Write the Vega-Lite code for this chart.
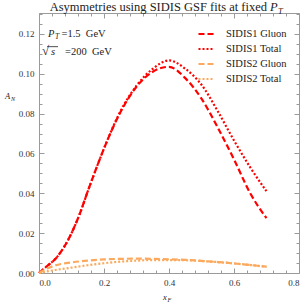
{
  "$schema": "https://vega.github.io/schema/vega-lite/v6.json",
  "width": 260,
  "height": 260,
  "autosize": {"type": "none"},
  "padding": {"left": 39, "top": 13, "right": 8, "bottom": 34},
  "config": {
    "view": {"stroke": "#9a9a9a", "strokeWidth": 1},
    "axis": {"domain": false, "grid": false, "tickColor": "#9a9a9a", "tickWidth": 1, "labelFont": "Liberation Serif", "labelFontSize": 9, "labelColor": "#333333", "title": null},
    "text": {"font": "Liberation Serif", "color": "#222222"},
    "legend": {"symbolType": "stroke", "symbolSize": 225, "symbolStrokeWidth": 2.2, "labelFont": "Liberation Serif", "labelFontSize": 10.5, "labelColor": "#222222", "labelOffset": 11, "rowPadding": 0, "padding": 0}
  },
  "datasets": {
    "curves": [
      {"series": "SIDIS1 Gluon", "xF": 0, "AN": 0},
      {"series": "SIDIS1 Gluon", "xF": 0.025, "AN": 0.0035},
      {"series": "SIDIS1 Gluon", "xF": 0.05, "AN": 0.007},
      {"series": "SIDIS1 Gluon", "xF": 0.075, "AN": 0.0125},
      {"series": "SIDIS1 Gluon", "xF": 0.1, "AN": 0.02},
      {"series": "SIDIS1 Gluon", "xF": 0.125, "AN": 0.0295},
      {"series": "SIDIS1 Gluon", "xF": 0.15, "AN": 0.041},
      {"series": "SIDIS1 Gluon", "xF": 0.175, "AN": 0.052},
      {"series": "SIDIS1 Gluon", "xF": 0.2, "AN": 0.0625},
      {"series": "SIDIS1 Gluon", "xF": 0.25, "AN": 0.0805},
      {"series": "SIDIS1 Gluon", "xF": 0.3, "AN": 0.0935},
      {"series": "SIDIS1 Gluon", "xF": 0.35, "AN": 0.101},
      {"series": "SIDIS1 Gluon", "xF": 0.4, "AN": 0.1035},
      {"series": "SIDIS1 Gluon", "xF": 0.45, "AN": 0.0978},
      {"series": "SIDIS1 Gluon", "xF": 0.5, "AN": 0.0875},
      {"series": "SIDIS1 Gluon", "xF": 0.55, "AN": 0.073},
      {"series": "SIDIS1 Gluon", "xF": 0.6, "AN": 0.057},
      {"series": "SIDIS1 Gluon", "xF": 0.65, "AN": 0.04},
      {"series": "SIDIS1 Gluon", "xF": 0.7, "AN": 0.0275},
      {"series": "SIDIS1 Total", "xF": 0, "AN": 0},
      {"series": "SIDIS1 Total", "xF": 0.025, "AN": 0.0035},
      {"series": "SIDIS1 Total", "xF": 0.05, "AN": 0.007},
      {"series": "SIDIS1 Total", "xF": 0.075, "AN": 0.0125},
      {"series": "SIDIS1 Total", "xF": 0.1, "AN": 0.02},
      {"series": "SIDIS1 Total", "xF": 0.125, "AN": 0.0295},
      {"series": "SIDIS1 Total", "xF": 0.15, "AN": 0.041},
      {"series": "SIDIS1 Total", "xF": 0.175, "AN": 0.052},
      {"series": "SIDIS1 Total", "xF": 0.2, "AN": 0.0625},
      {"series": "SIDIS1 Total", "xF": 0.25, "AN": 0.081},
      {"series": "SIDIS1 Total", "xF": 0.3, "AN": 0.094},
      {"series": "SIDIS1 Total", "xF": 0.35, "AN": 0.1025},
      {"series": "SIDIS1 Total", "xF": 0.4, "AN": 0.1067},
      {"series": "SIDIS1 Total", "xF": 0.45, "AN": 0.1025},
      {"series": "SIDIS1 Total", "xF": 0.5, "AN": 0.0945},
      {"series": "SIDIS1 Total", "xF": 0.55, "AN": 0.0812},
      {"series": "SIDIS1 Total", "xF": 0.6, "AN": 0.0665},
      {"series": "SIDIS1 Total", "xF": 0.65, "AN": 0.053},
      {"series": "SIDIS1 Total", "xF": 0.7, "AN": 0.041},
      {"series": "SIDIS2 Gluon", "xF": 0, "AN": 0},
      {"series": "SIDIS2 Gluon", "xF": 0.025, "AN": 0.0022},
      {"series": "SIDIS2 Gluon", "xF": 0.05, "AN": 0.0038},
      {"series": "SIDIS2 Gluon", "xF": 0.1, "AN": 0.0053},
      {"series": "SIDIS2 Gluon", "xF": 0.15, "AN": 0.0062},
      {"series": "SIDIS2 Gluon", "xF": 0.2, "AN": 0.0068},
      {"series": "SIDIS2 Gluon", "xF": 0.25, "AN": 0.0071},
      {"series": "SIDIS2 Gluon", "xF": 0.3, "AN": 0.0072},
      {"series": "SIDIS2 Gluon", "xF": 0.35, "AN": 0.0071},
      {"series": "SIDIS2 Gluon", "xF": 0.4, "AN": 0.0069},
      {"series": "SIDIS2 Gluon", "xF": 0.45, "AN": 0.0066},
      {"series": "SIDIS2 Gluon", "xF": 0.5, "AN": 0.0061},
      {"series": "SIDIS2 Gluon", "xF": 0.55, "AN": 0.0055},
      {"series": "SIDIS2 Gluon", "xF": 0.6, "AN": 0.0048},
      {"series": "SIDIS2 Gluon", "xF": 0.65, "AN": 0.004},
      {"series": "SIDIS2 Gluon", "xF": 0.7, "AN": 0.0032},
      {"series": "SIDIS2 Total", "xF": 0, "AN": 0},
      {"series": "SIDIS2 Total", "xF": 0.025, "AN": 0.0008},
      {"series": "SIDIS2 Total", "xF": 0.05, "AN": 0.0015},
      {"series": "SIDIS2 Total", "xF": 0.1, "AN": 0.0027},
      {"series": "SIDIS2 Total", "xF": 0.15, "AN": 0.0039},
      {"series": "SIDIS2 Total", "xF": 0.2, "AN": 0.0049},
      {"series": "SIDIS2 Total", "xF": 0.25, "AN": 0.0057},
      {"series": "SIDIS2 Total", "xF": 0.3, "AN": 0.0062},
      {"series": "SIDIS2 Total", "xF": 0.35, "AN": 0.0065},
      {"series": "SIDIS2 Total", "xF": 0.4, "AN": 0.0065},
      {"series": "SIDIS2 Total", "xF": 0.45, "AN": 0.0064},
      {"series": "SIDIS2 Total", "xF": 0.5, "AN": 0.006},
      {"series": "SIDIS2 Total", "xF": 0.55, "AN": 0.0055},
      {"series": "SIDIS2 Total", "xF": 0.6, "AN": 0.0048},
      {"series": "SIDIS2 Total", "xF": 0.65, "AN": 0.004},
      {"series": "SIDIS2 Total", "xF": 0.7, "AN": 0.0031}
    ]
  },
  "resolve": {"axis": {"x": "independent", "y": "independent"}},
  "layer": [
    {
      "data": {"name": "curves"},
      "mark": {"type": "line", "strokeWidth": 2.2, "interpolate": "monotone", "strokeCap": "butt"},
      "encoding": {
        "x": {"field": "xF", "type": "quantitative", "scale": {"domain": [0, 0.8], "nice": false, "zero": false},
              "axis": {"orient": "bottom", "values": [0, 0.2, 0.4, 0.6, 0.8], "format": ".1f", "tickSize": -5, "labelPadding": 10}},
        "y": {"field": "AN", "type": "quantitative", "scale": {"domain": [0, 0.1305], "nice": false, "zero": false},
              "axis": {"orient": "left", "values": [0, 0.02, 0.04, 0.06, 0.08, 0.1, 0.12], "format": ".2f", "tickSize": -5, "labelPadding": 10}},
        "color": {"field": "series", "type": "nominal",
                  "scale": {"domain": ["SIDIS1 Gluon", "SIDIS1 Total", "SIDIS2 Gluon", "SIDIS2 Total"], "range": ["#ff0000", "#ff0000", "#fba95c", "#fba95c"]},
                  "legend": {"title": null, "orient": "none", "legendX": 158, "legendY": 12}},
        "strokeDash": {"field": "series", "type": "nominal",
                  "scale": {"domain": ["SIDIS1 Gluon", "SIDIS1 Total", "SIDIS2 Gluon", "SIDIS2 Total"], "range": [[6, 3], [2, 2], [6, 3], [2, 2]]},
                  "legend": {"title": null, "orient": "none", "legendX": 158, "legendY": 12}}
      }
    },
    {
      "data": {"name": "curves"},
      "mark": {"type": "point", "opacity": 0},
      "encoding": {
        "x": {"field": "xF", "type": "quantitative", "axis": {"orient": "bottom", "values": [0.04, 0.08, 0.12, 0.16, 0.24, 0.28, 0.32, 0.36, 0.44, 0.48, 0.52, 0.56, 0.64, 0.68, 0.72, 0.76], "labels": false, "tickSize": -3}},
        "y": {"field": "AN", "type": "quantitative", "axis": {"orient": "left", "values": [0.005, 0.01, 0.015, 0.025, 0.03, 0.035, 0.045, 0.05, 0.055, 0.065, 0.07, 0.075, 0.085, 0.09, 0.095, 0.105, 0.11, 0.115, 0.125, 0.13], "labels": false, "tickSize": -3}}
      }
    },
    {
      "data": {"name": "curves"},
      "mark": {"type": "point", "opacity": 0},
      "encoding": {
        "x": {"field": "xF", "type": "quantitative", "axis": {"orient": "top", "values": [0, 0.2, 0.4, 0.6, 0.8], "labels": false, "tickSize": -5}},
        "y": {"field": "AN", "type": "quantitative", "axis": {"orient": "right", "values": [0, 0.02, 0.04, 0.06, 0.08, 0.1, 0.12], "labels": false, "tickSize": -5}}
      }
    },
    {
      "data": {"name": "curves"},
      "mark": {"type": "point", "opacity": 0},
      "encoding": {
        "x": {"field": "xF", "type": "quantitative", "axis": {"orient": "top", "values": [0.04, 0.08, 0.12, 0.16, 0.24, 0.28, 0.32, 0.36, 0.44, 0.48, 0.52, 0.56, 0.64, 0.68, 0.72, 0.76], "labels": false, "tickSize": -3}},
        "y": {"field": "AN", "type": "quantitative", "axis": {"orient": "right", "values": [0.005, 0.01, 0.015, 0.025, 0.03, 0.035, 0.045, 0.05, 0.055, 0.065, 0.07, 0.075, 0.085, 0.09, 0.095, 0.105, 0.11, 0.115, 0.125, 0.13], "labels": false, "tickSize": -3}}
      }
    },
    {
      "data": {"values": [{}]},
      "mark": {"type": "text", "text": "Asymmetries using SIDIS GSF fits at fixed", "align": "right", "baseline": "alphabetic", "fontSize": 12.5, "dx": -3, "dy": -2},
      "encoding": {"x": {"datum": 0.7108, "type": "quantitative", "axis": null}, "y": {"datum": 0.1305, "type": "quantitative", "axis": null}}
    },
    {
      "data": {"values": [{}]},
      "mark": {"type": "text", "text": "P", "align": "left", "baseline": "alphabetic", "fontSize": 12.5, "fontStyle": "italic", "dy": -2},
      "encoding": {"x": {"datum": 0.7108, "type": "quantitative", "axis": null}, "y": {"datum": 0.1305, "type": "quantitative", "axis": null}}
    },
    {
      "data": {"values": [{}]},
      "mark": {"type": "text", "text": "T", "align": "left", "baseline": "alphabetic", "fontSize": 8.5, "fontStyle": "italic", "dx": 8, "dy": 1},
      "encoding": {"x": {"datum": 0.7108, "type": "quantitative", "axis": null}, "y": {"datum": 0.1305, "type": "quantitative", "axis": null}}
    },
    {
      "data": {"values": [{}]},
      "mark": {"type": "text", "text": "P", "align": "left", "baseline": "alphabetic", "fontSize": 10.5, "fontStyle": "italic"},
      "encoding": {"x": {"datum": 0.0277, "type": "quantitative", "axis": null}, "y": {"datum": 0.1186, "type": "quantitative", "axis": null}}
    },
    {
      "data": {"values": [{}]},
      "mark": {"type": "text", "text": "T", "align": "left", "baseline": "alphabetic", "fontSize": 7.5, "fontStyle": "italic", "dx": 7, "dy": 2},
      "encoding": {"x": {"datum": 0.0277, "type": "quantitative", "axis": null}, "y": {"datum": 0.1186, "type": "quantitative", "axis": null}}
    },
    {
      "data": {"values": [{}]},
      "mark": {"type": "text", "text": "=1.5\u00a0 GeV", "align": "left", "baseline": "alphabetic", "fontSize": 10.5, "dx": 13.5},
      "encoding": {"x": {"datum": 0.0277, "type": "quantitative", "axis": null}, "y": {"datum": 0.1186, "type": "quantitative", "axis": null}}
    },
    {
      "data": {"values": [{}]},
      "mark": {"type": "text", "text": "√", "align": "left", "baseline": "alphabetic", "fontSize": 13},
      "encoding": {"x": {"datum": 0.0092, "type": "quantitative", "axis": null}, "y": {"datum": 0.1094, "type": "quantitative", "axis": null}}
    },
    {
      "data": {"values": [{}]},
      "mark": {"type": "text", "text": "s", "align": "left", "baseline": "alphabetic", "fontSize": 10.5, "fontStyle": "italic", "dx": 9},
      "encoding": {"x": {"datum": 0.0092, "type": "quantitative", "axis": null}, "y": {"datum": 0.1094, "type": "quantitative", "axis": null}}
    },
    {
      "data": {"values": [{}]},
      "mark": {"type": "text", "text": "=200\u00a0 GeV", "align": "left", "baseline": "alphabetic", "fontSize": 10.5, "dx": 23},
      "encoding": {"x": {"datum": 0.0092, "type": "quantitative", "axis": null}, "y": {"datum": 0.1094, "type": "quantitative", "axis": null}}
    },
    {
      "data": {"values": [{}]},
      "mark": {"type": "rule", "color": "#222222", "strokeWidth": 0.8},
      "encoding": {"x": {"datum": 0.0246, "type": "quantitative", "axis": null}, "x2": {"datum": 0.0585}, "y": {"datum": 0.1136, "type": "quantitative", "axis": null}}
    },
    {
      "data": {"values": [{}]},
      "mark": {"type": "text", "text": "A", "align": "left", "baseline": "alphabetic", "fontSize": 8.5, "fontStyle": "italic", "dx": -34},
      "encoding": {"x": {"datum": 0, "type": "quantitative", "axis": null}, "y": {"datum": 0.0874, "type": "quantitative", "axis": null}}
    },
    {
      "data": {"values": [{}]},
      "mark": {"type": "text", "text": "N", "align": "left", "baseline": "alphabetic", "fontSize": 6, "fontStyle": "italic", "dx": -28, "dy": 2},
      "encoding": {"x": {"datum": 0, "type": "quantitative", "axis": null}, "y": {"datum": 0.0874, "type": "quantitative", "axis": null}}
    },
    {
      "data": {"values": [{}]},
      "mark": {"type": "text", "text": "x", "align": "left", "baseline": "alphabetic", "fontSize": 8.5, "fontStyle": "italic", "dy": 27},
      "encoding": {"x": {"datum": 0.3815, "type": "quantitative", "axis": null}, "y": {"datum": 0, "type": "quantitative", "axis": null}}
    },
    {
      "data": {"values": [{}]},
      "mark": {"type": "text", "text": "F", "align": "left", "baseline": "alphabetic", "fontSize": 6, "fontStyle": "italic", "dx": 4.5, "dy": 29},
      "encoding": {"x": {"datum": 0.3815, "type": "quantitative", "axis": null}, "y": {"datum": 0, "type": "quantitative", "axis": null}}
    }
  ]
}
